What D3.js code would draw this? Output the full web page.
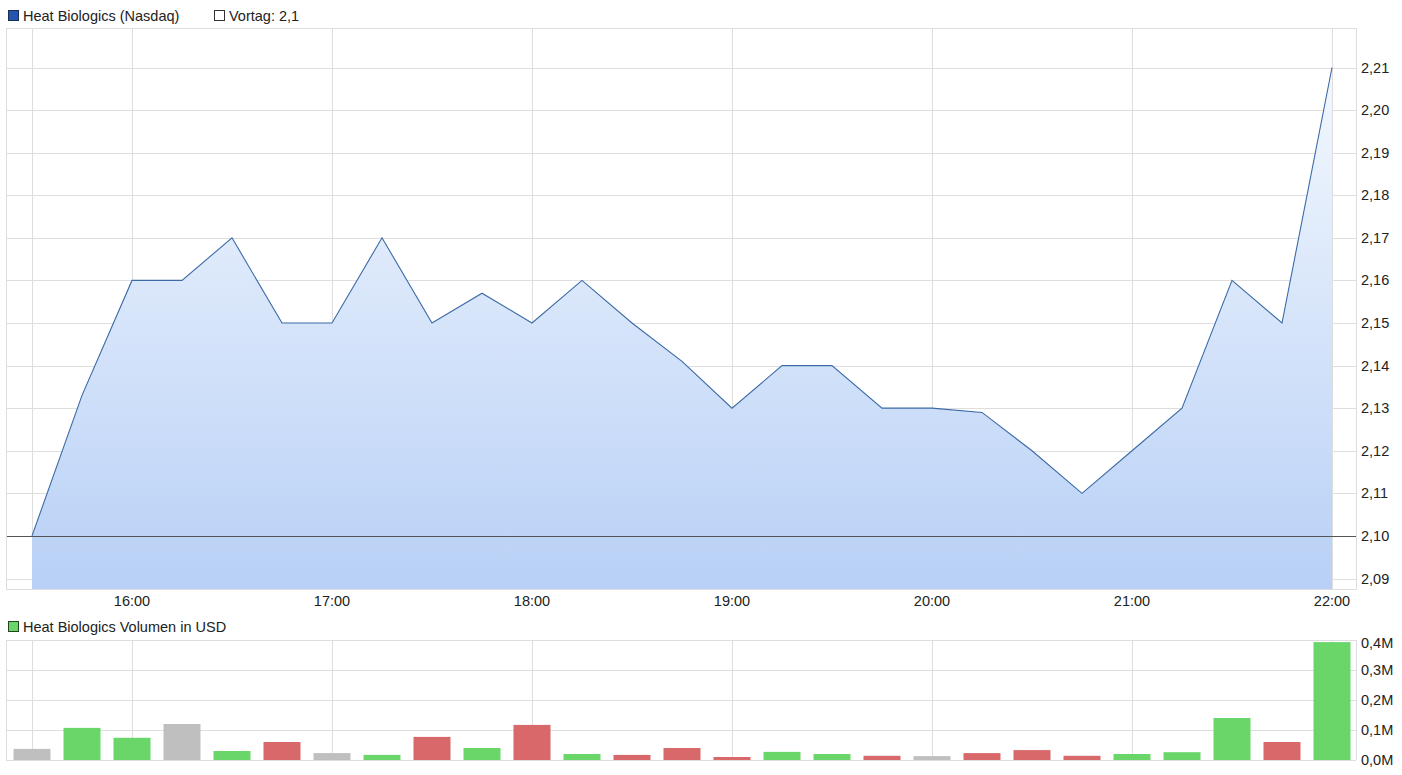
<!DOCTYPE html>
<html>
<head>
<meta charset="utf-8">
<script src="https://cdn.jsdelivr.net/npm/d3@7"></script>
<style>
body{margin:0;background:#fff;}
svg text{font-family:"Liberation Sans",Arial,sans-serif;font-size:14.5px;fill:#222;}
</style>
</head>
<body>
<svg id="chart"></svg>
<script>
var width=1402, height=775;

// quarter-hour stamps, 15:30 .. 22:00
var times=["15:30","15:45","16:00","16:15","16:30","16:45","17:00","17:15","17:30","17:45",
    "18:00","18:15","18:30","18:45","19:00","19:15","19:30","19:45","20:00","20:15",
    "20:30","20:45","21:00","21:15","21:30","21:45","22:00"];
var prices=[2.10,2.133,2.16,2.16,2.17,2.15,2.15,2.17,2.15,2.157,
    2.15,2.16,2.15,2.141,2.13,2.14,2.14,2.13,2.13,2.129,
    2.12,2.11,2.12,2.13,2.16,2.15,2.21];
// volume in million USD
var volumes=[0.037,0.107,0.074,0.12,0.03,0.06,0.023,0.017,0.077,0.04,
    0.117,0.02,0.017,0.04,0.01,0.027,0.02,0.014,0.013,0.023,
    0.033,0.014,0.02,0.026,0.14,0.06,0.393];
// u = up, d = down, s = same
var volDir=["s","u","u","s","u","d","s","u","d","u",
    "d","u","d","d","d","u","u","d","s","d",
    "d","d","u","u","u","d","u"];
var vortag=2.1;
var priceTicks=[2.09,2.10,2.11,2.12,2.13,2.14,2.15,2.16,2.17,2.18,2.19,2.20,2.21];
var volTicks=[0,0.1,0.2,0.3,0.4];
var hourTicks=["16:00","17:00","18:00","19:00","20:00","21:00","22:00"];

var parse=d3.timeParse("%H:%M");
var fmtNum=d3.formatLocale({decimal:",",thousands:".",grouping:[3],currency:["","€"]});

var svg=d3.select("#chart").attr("width",width).attr("height",height);

var left=6, right=1356;
var top1=28, bot1=589, top2=640, bot2=760;

var x=d3.scaleTime().domain([parse("15:30"),parse("22:00")]).range([32,1332]);
var y=d3.scaleLinear().domain([2.09,2.21]).range([578.5,67.5]);
var yv=d3.scaleLinear().domain([0,0.4]).range([bot2,top2]);

var data=times.map(function(t,i){return {t:parse(t),p:prices[i],v:volumes[i],d:volDir[i]};});

var defs=svg.append("defs");
var grad=defs.append("linearGradient").attr("id","areaGrad")
    .attr("gradientUnits","userSpaceOnUse")
    .attr("x1",0).attr("x2",0).attr("y1",y(2.21)).attr("y2",bot1);
grad.append("stop").attr("offset","0%").attr("stop-color","#f3f8fe");
grad.append("stop").attr("offset","100%").attr("stop-color","#b8d0f6");

// ---------- price panel ----------
var g1=svg.append("g");
g1.append("g").selectAll("line").data(priceTicks).enter().append("line")
    .attr("x1",left).attr("x2",right)
    .attr("y1",function(d){return Math.round(y(d))+0.5;})
    .attr("y2",function(d){return Math.round(y(d))+0.5;})
    .attr("stroke","#dedede");
g1.append("g").selectAll("line").data([parse("15:30")].concat(hourTicks.map(parse))).enter().append("line")
    .attr("x1",function(d){return Math.round(x(d))+0.5;})
    .attr("x2",function(d){return Math.round(x(d))+0.5;})
    .attr("y1",top1).attr("y2",bot1)
    .attr("stroke","#dedede");

g1.append("path").datum(data)
    .attr("fill","url(#areaGrad)")
    .attr("d",d3.area().x(function(d){return x(d.t);}).y0(bot1).y1(function(d){return y(d.p);}));

g1.append("line")
    .attr("x1",left).attr("x2",right)
    .attr("y1",Math.round(y(vortag))+0.5).attr("y2",Math.round(y(vortag))+0.5)
    .attr("stroke","#555").attr("stroke-width",1);

g1.append("path").datum(data)
    .attr("fill","none").attr("stroke","#3b6aa6").attr("stroke-width",1.1)
    .attr("d",d3.line().x(function(d){return x(d.t);}).y(function(d){return y(d.p);}));

g1.append("rect").attr("x",left+0.5).attr("y",top1+0.5)
    .attr("width",right-left).attr("height",bot1-top1)
    .attr("fill","none").attr("stroke","#dedede");

g1.append("g").selectAll("text").data(priceTicks).enter().append("text")
    .attr("x",1361).attr("y",function(d){return y(d);}).attr("dy","0.35em")
    .text(function(d){return fmtNum.format(".2f")(d);});

g1.append("g").selectAll("text").data(hourTicks.map(parse)).enter().append("text")
    .attr("x",function(d){return x(d);}).attr("y",606).attr("text-anchor","middle")
    .text(d3.timeFormat("%H:%M"));

// legend
svg.append("rect").attr("x",8.5).attr("y",10.5).attr("width",10).attr("height",10)
    .attr("fill","#2456ad").attr("stroke","#1a2d55");
svg.append("text").attr("x",23).attr("y",21).text("Heat Biologics (Nasdaq)");
svg.append("rect").attr("x",214.5).attr("y",10.5).attr("width",10).attr("height",10)
    .attr("fill","#fff").attr("stroke","#333");
svg.append("text").attr("x",229).attr("y",21).text("Vortag: "+fmtNum.format("")(vortag));

// ---------- volume panel ----------
var g2=svg.append("g");
g2.append("g").selectAll("line").data(volTicks).enter().append("line")
    .attr("x1",left).attr("x2",right)
    .attr("y1",function(d){return Math.round(yv(d))+0.5;})
    .attr("y2",function(d){return Math.round(yv(d))+0.5;})
    .attr("stroke","#dedede");
g2.append("g").selectAll("line").data([parse("15:30")].concat(hourTicks.map(parse))).enter().append("line")
    .attr("x1",function(d){return Math.round(x(d))+0.5;})
    .attr("x2",function(d){return Math.round(x(d))+0.5;})
    .attr("y1",top2).attr("y2",bot2)
    .attr("stroke","#dedede");
g2.append("line").attr("x1",left+0.5).attr("x2",left+0.5).attr("y1",top2).attr("y2",bot2).attr("stroke","#dedede");
g2.append("line").attr("x1",right+0.5).attr("x2",right+0.5).attr("y1",top2).attr("y2",bot2).attr("stroke","#dedede");

var colors={u:"#6ad66a",d:"#d9686a",s:"#bfbfbf"};
var bw=37;
g2.append("g").selectAll("rect").data(data).enter().append("rect")
    .attr("x",function(d){return x(d.t)-bw/2;})
    .attr("width",bw)
    .attr("y",function(d){return yv(d.v);})
    .attr("height",function(d){return bot2-yv(d.v);})
    .attr("fill",function(d){return colors[d.d];});

g2.append("g").selectAll("text").data(volTicks).enter().append("text")
    .attr("x",1361).attr("y",function(d){return Math.max(yv(d),top2+3);}).attr("dy","0.35em")
    .text(function(d){return fmtNum.format(".1f")(d)+"M";});

svg.append("rect").attr("x",8.5).attr("y",621.5).attr("width",10).attr("height",10)
    .attr("fill","#6ad66a").attr("stroke","#224422");
svg.append("text").attr("x",23).attr("y",632).text("Heat Biologics Volumen in USD");
</script>
</body>
</html>
